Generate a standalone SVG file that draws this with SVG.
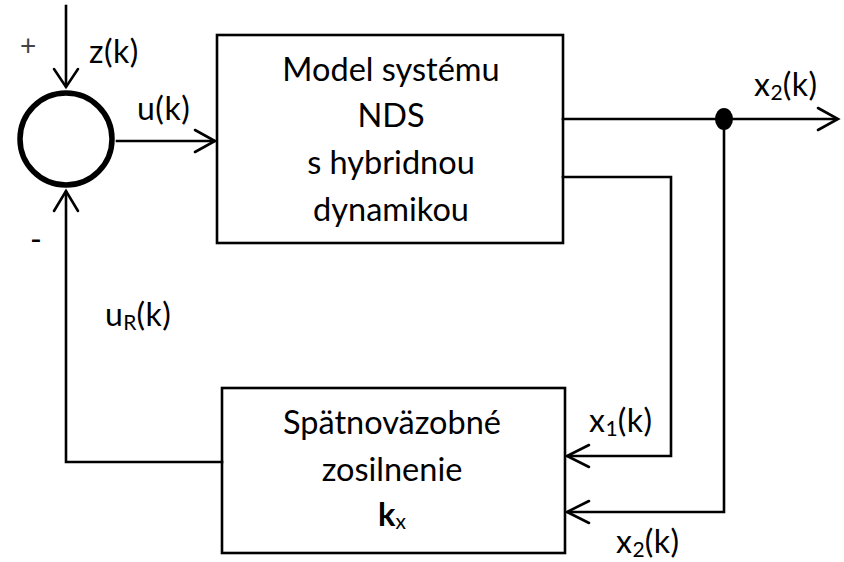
<svg xmlns="http://www.w3.org/2000/svg" width="844" height="562" viewBox="0 0 844 562">
<style>
.ln{fill:none;stroke:#000;stroke-width:2.6;stroke-linecap:square;stroke-linejoin:miter}
.ah{fill:none;stroke:#000;stroke-width:2.6;stroke-linecap:round;stroke-linejoin:miter}
.box{fill:#fff;stroke:#000;stroke-width:2.6}
text{font-family:Lato,"Open Sans","Liberation Sans",sans-serif;font-size:32.5px;fill:#000}
.c{text-anchor:middle}
.lb{font-size:32px;letter-spacing:0.5px}
.sub{font-size:21px;letter-spacing:0}
</style>
<rect width="844" height="562" fill="#fff"/>
<g id="sum">
<circle cx="66" cy="139" r="46" fill="#fff" stroke="#000" stroke-width="5.5"/>
<text x="20" y="56" style="font-size:28px;fill:#444">+</text>
<text x="30" y="251" style="font-size:32px">-</text>
</g>
<g id="plant">
<rect class="box" x="217" y="35" width="346" height="208"/>
<text class="c" x="391" y="81">Model systému</text>
<text class="c" x="391" y="127">NDS</text>
<text class="c" x="391" y="174">s hybridnou</text>
<text class="c" x="391" y="221">dynamikou</text>
</g>
<g id="gain">
<rect class="box" x="222" y="388" width="343" height="165"/>
<text class="c" x="392" y="434">Spätnoväzobné</text>
<text class="c" x="392" y="481">zosilnenie</text>
<text class="c" x="392" y="526"><tspan font-weight="bold">k</tspan><tspan class="sub" dy="3">x</tspan></text>
</g>
<g id="junction">
<ellipse cx="724" cy="119" rx="9" ry="11" fill="#000"/>
</g>
<g id="connectors">
<path class="ln" d="M66 6 V86"/>
<path class="ah" d="M54 69 L66 87 L78 69"/>
<path class="ln" d="M117 141 H214"/>
<path class="ah" d="M195 130 L215 141 L195 152"/>
<path class="ln" d="M563 119 H836"/>
<path class="ah" d="M818 108 L838 119 L818 130"/>
<path class="ln" d="M563 177 H671 V456 H568"/>
<path class="ah" d="M589 445 L567 456 L589 467"/>
<path class="ln" d="M724 119 V512 H568"/>
<path class="ah" d="M589 501 L567 512 L589 523"/>
<path class="ln" d="M222 462 H66 V192"/>
<path class="ah" d="M54 211 L66 191 L78 211"/>
</g>
<g id="labels">
<text class="lb" x="89" y="63">z(k)</text>
<text class="lb" x="137" y="120">u(k)</text>
<text class="lb" x="754" y="96">x<tspan class="sub" dy="4">2</tspan><tspan dy="-4">(k)</tspan></text>
<text class="lb" x="105" y="326">u<tspan class="sub" dy="4">R</tspan><tspan dy="-4">(k)</tspan></text>
<text class="lb" x="589" y="432">x<tspan class="sub" dy="4">1</tspan><tspan dy="-4">(k)</tspan></text>
<text class="lb" x="616" y="553">x<tspan class="sub" dy="4">2</tspan><tspan dy="-4">(k)</tspan></text>
</g>
</svg>
